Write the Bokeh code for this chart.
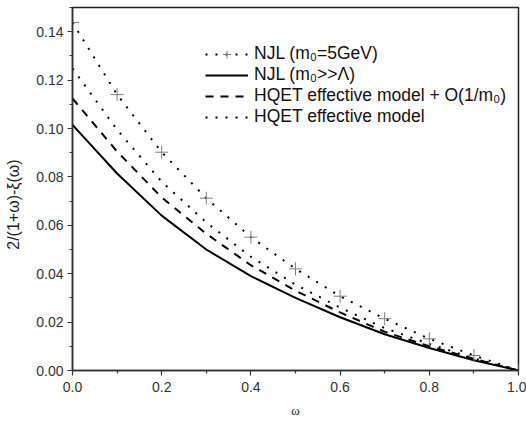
from bokeh.plotting import figure
from bokeh.models import Range1d, FixedTicker, PrintfTickFormatter, Legend, LegendItem
from bokeh.embed import file_html
from bokeh.resources import INLINE

omega = [0.0, 0.1, 0.2, 0.3, 0.4, 0.5, 0.6, 0.7, 0.8, 0.9, 1.0]
njl_5gev = [0.1438, 0.1140, 0.0902, 0.0712, 0.0551, 0.0420, 0.0307, 0.0214, 0.0131, 0.0062, 0.0]
njl_heavy = [0.1015, 0.0814, 0.0640, 0.0500, 0.0390, 0.0300, 0.0220, 0.0150, 0.0093, 0.0042, 0.0]
hqet_corr = [0.1124, 0.0905, 0.0715, 0.0565, 0.0435, 0.0330, 0.0240, 0.0160, 0.0100, 0.0048, 0.0]
hqet = [0.1248, 0.0995, 0.0780, 0.0612, 0.0470, 0.0355, 0.0260, 0.0175, 0.0110, 0.0050, 0.0]

x_major = [0.0, 0.2, 0.4, 0.6, 0.8, 1.0]
x_minor = [0.1, 0.3, 0.5, 0.7, 0.9]
y_major = [0.0, 0.02, 0.04, 0.06, 0.08, 0.10, 0.12, 0.14]
y_minor = [0.01, 0.03, 0.05, 0.07, 0.09, 0.11, 0.13, 0.15]

labels = ["NJL (m\u2080=5GeV)", "NJL (m\u2080>>\u039b)",
          "HQET effective model + O(1/m\u2080)", "HQET effective model"]
x_title = "\u03c9"
y_title = "2/(1+\u03c9)-\u03be(\u03c9)"

FONT = "Liberation Sans"

p = figure(width=526, height=425, x_range=Range1d(0, 1), y_range=Range1d(0, 0.15),
           output_backend="svg", toolbar_location=None,
           min_border_left=72, min_border_right=8, min_border_top=7, min_border_bottom=55)

p.xgrid.visible = False
p.ygrid.visible = False
p.outline_line_color = "#222222"
p.outline_line_width = 1.5
p.background_fill_color = "white"

r_hq = p.line(omega, hqet, line_color="black", line_width=2, line_dash="2 8")
r_hc = p.line(omega, hqet_corr, line_color="black", line_width=2, line_dash="8 7")
r_nh = p.line(omega, njl_heavy, line_color="black", line_width=2)
r_n5 = p.line(omega, njl_5gev, line_color="black", line_width=2, line_dash="2 8")
r_n5m = p.scatter(omega, njl_5gev, marker="cross", size=13, line_color="#808080", line_width=1)

legend = Legend(items=[
    LegendItem(label=labels[0], renderers=[r_n5, r_n5m]),
    LegendItem(label=labels[1], renderers=[r_nh]),
    LegendItem(label=labels[2], renderers=[r_hc]),
    LegendItem(label=labels[3], renderers=[r_hq]),
], location=(133, 243))
legend.padding = 0
legend.margin = 0
legend.spacing = 0
legend.border_line_alpha = 0
legend.background_fill_alpha = 0
legend.glyph_width = 43
legend.glyph_height = 20
legend.label_height = 20
legend.label_standoff = 6
legend.label_text_font = FONT
legend.label_text_font_size = "17.5px"
legend.label_text_color = "#111111"
p.add_layout(legend)

for ax in (p.xaxis[0], p.yaxis[0]):
    ax.axis_line_color = "#333333"
    ax.axis_line_width = 1.5
    ax.major_tick_line_color = "#333333"
    ax.minor_tick_line_color = "#333333"
    ax.major_tick_line_width = 1.2
    ax.minor_tick_line_width = 1.2
    ax.major_tick_in = 0
    ax.major_tick_out = 5
    ax.minor_tick_in = 0
    ax.minor_tick_out = 3
    ax.major_label_text_font = FONT
    ax.major_label_text_font_size = "14px"
    ax.major_label_text_color = "#333333"
    ax.axis_label_text_font_style = "normal"
    ax.axis_label_text_color = "#222222"

p.xaxis.ticker = FixedTicker(ticks=x_major, minor_ticks=x_minor)
p.yaxis.ticker = FixedTicker(ticks=y_major, minor_ticks=y_minor)
p.xaxis.formatter = PrintfTickFormatter(format="%.1f")
p.yaxis.formatter = PrintfTickFormatter(format="%.2f")
p.xaxis.major_label_standoff = 6
p.yaxis.major_label_standoff = 4

p.xaxis.axis_label = x_title
p.xaxis.axis_label_text_font = "Liberation Serif"
p.xaxis.axis_label_text_font_size = "13px"
p.xaxis.axis_label_standoff = 8

# trailing no-break spaces push the rotated title slightly below the frame centre, as in the original
p.yaxis.axis_label = y_title + "\u00a0" * 7
p.yaxis.axis_label_text_font = FONT
p.yaxis.axis_label_text_font_size = "16px"
p.yaxis.axis_label_standoff = 11

open("out.html", "w").write(file_html(p, INLINE))
